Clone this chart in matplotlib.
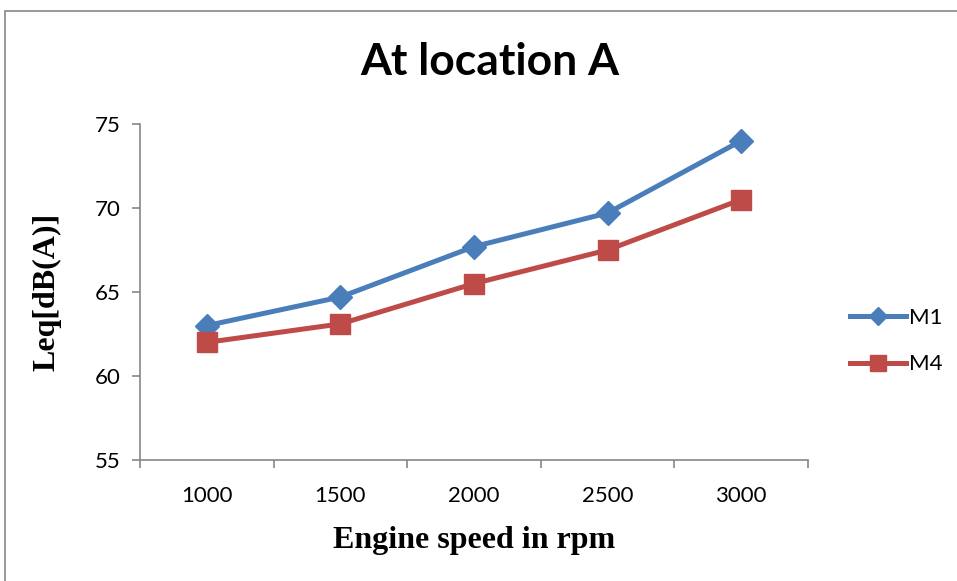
import matplotlib.pyplot as plt
from matplotlib.patches import Rectangle

# Engine speed categories and sound levels
speeds = ['1000', '1500', '2000', '2500', '3000']
m1 = [63.0, 64.7, 67.7, 69.7, 74.0]
m4 = [62.0, 63.1, 65.5, 67.5, 70.5]

fig = plt.figure(figsize=(9.57, 5.81), dpi=100)
ax = fig.add_axes([0.1463, 0.2083, 0.6980, 0.5783])

x = range(len(speeds))
ax.plot(x, m1, color='#4A7EBB', lw=3.6, marker='D', ms=12, label='M1')
ax.plot(x, m4, color='#BE4B48', lw=3.6, marker='s', ms=14, label='M4')

ax.set_xlim(-0.5, len(speeds) - 0.5)
ax.set_ylim(55, 75)
ax.set_yticks([55, 60, 65, 70, 75])
ax.set_xticks(list(x))
ax.set_xticklabels(speeds)
ax.set_xticks([i - 0.5 for i in range(len(speeds) + 1)], minor=True)

grey = '#868686'
for s in ['top', 'right']:
    ax.spines[s].set_visible(False)
for s in ['left', 'bottom']:
    ax.spines[s].set_color(grey)
    ax.spines[s].set_linewidth(1.2)
ax.tick_params(axis='x', which='major', length=0, pad=19, labelsize=16)
ax.tick_params(axis='x', which='minor', length=6, color=grey, width=1.2)
ax.tick_params(axis='y', length=6, color=grey, width=1.2, labelsize=16, pad=8)
for lab in ax.get_xticklabels() + ax.get_yticklabels():
    lab.set_family('Lato')

ax.set_xlabel('Engine speed in rpm', family='Liberation Serif', fontweight='bold',
              fontsize=23, labelpad=14)
ax.set_ylabel('Leq[dB(A)]', family='Liberation Serif', fontweight='bold',
              fontsize=23, labelpad=24)
fig.text(0.512, 0.893, 'At location A', family='Lato', fontweight='bold',
         fontsize=32, ha='center', va='center')

leg = ax.legend(loc='center left', bbox_to_anchor=(1.033, 0.354), frameon=False,
                prop={'family': 'Lato', 'size': 16}, handlelength=2.5,
                labelspacing=1.2, handletextpad=0.15, markerscale=0.8)

# outer chart border
fig.patches.append(Rectangle((5 / 957, -0.1), 1.1, 1 - 11 / 581 + 0.1,
                             transform=fig.transFigure, fill=False,
                             edgecolor=grey, lw=1.2))

fig.savefig('out.png', dpi=100)
